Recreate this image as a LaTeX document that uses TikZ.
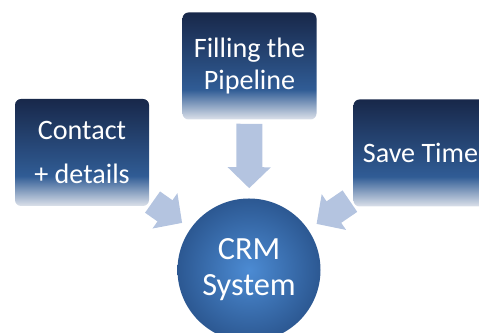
\documentclass[tikz,border=0pt]{standalone}
\usepackage{fontspec}
\setmainfont{Carlito}
\usetikzlibrary{arrows.meta}

\definecolor{cajaoscuro}{RGB}{24,40,74}
\definecolor{cajamedio}{RGB}{48,92,149}
\definecolor{cajaclaro}{RGB}{220,225,234}
\definecolor{bolacentro}{RGB}{76,139,211}
\definecolor{bolaborde}{RGB}{44,88,146}
\definecolor{flechaazul}{RGB}{180,196,224}

% degradados de las cajas y del círculo (la figura ocupa 25bp..75bp)
\pgfdeclareverticalshading{caja}{100bp}{
  color(0bp)=(cajaclaro); color(25bp)=(cajaclaro);
  color(39bp)=(cajamedio); color(75bp)=(cajaoscuro);
  color(100bp)=(cajaoscuro)}
\pgfdeclareradialshading{bola}{\pgfpoint{0bp}{0bp}}{
  color(0bp)=(bolacentro); color(25bp)=(bolaborde);
  color(50bp)=(bolaborde)}

\begin{document}
\begin{tikzpicture}[
    caja/.style={shade, shading=caja, rounded corners=0.15cm,
      minimum width=\ancho cm, minimum height=\alto cm, inner sep=0pt,
      text=white, align=center, font=\fontsize{20}{23}\selectfont},
    bola/.style={circle, shade, shading=bola, minimum size=\diam cm,
      inner sep=0pt, text=white, align=center,
      font=\fontsize{23}{25.6}\selectfont},
    flecha/.style={flechaazul, line width=0.65cm,
      -{Triangle[width=1.05cm, length=0.525cm]},
      shorten <=0.1cm, shorten >=0.25cm}
  ]
    % parámetros
    \def\ancho{3.35}   % ancho de caja
    \def\alto{2.675}   % alto de caja
    \def\diam{3.575}   % diámetro del círculo

    % marco
    \useasboundingbox (0,0) rectangle (11.975,8.325);
    \clip (0,0) rectangle (11.975,8.325);

    %—————— cajas ————————————————————————————————————————————————
    \node[caja] (contacto) at (2.05,4.5125) {Contact\\[8pt]+ details};
    \node[caja] (relleno)  at (6.2375,6.675) {Filling the\\Pipeline};
    \node[caja] (ahorro)   at (10.5125,4.5)  {Save Time};

    %—————— círculo central ———————————————————————————————————————
    \node[bola] (crm) at (6.225,1.575) {CRM\\System};

    %—————— flechas hacia el centro ————————————————————————————————
    \draw[flecha] (contacto) -- (crm);
    \draw[flecha] (relleno)  -- (crm);
    \draw[flecha] (ahorro)   -- (crm);
\end{tikzpicture}
\end{document}
